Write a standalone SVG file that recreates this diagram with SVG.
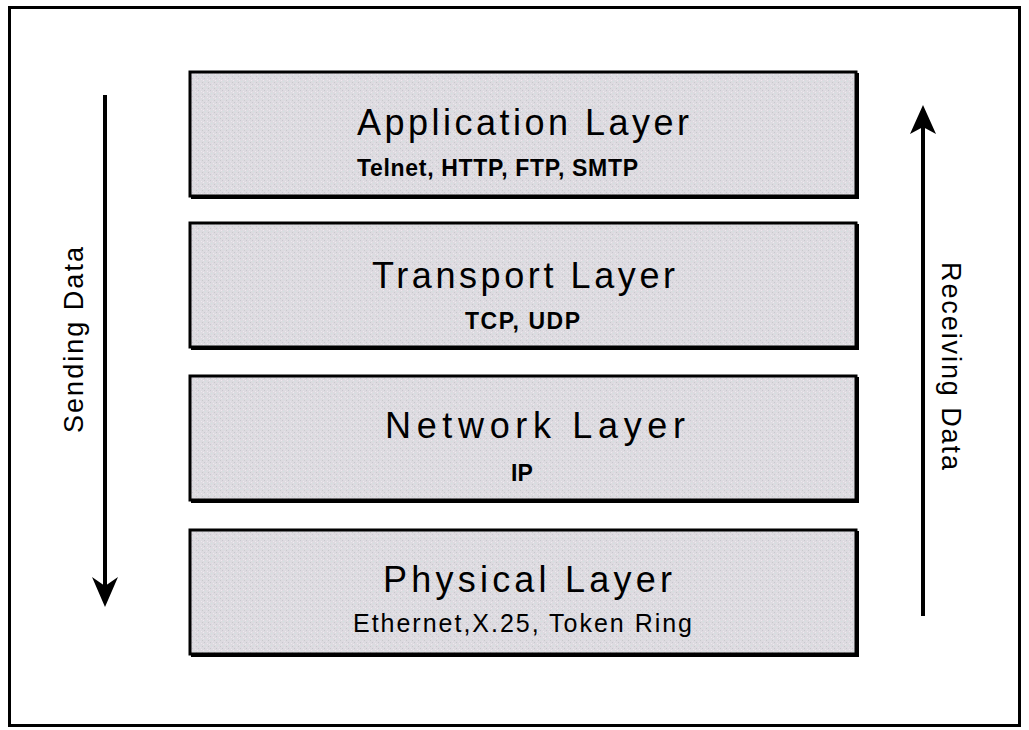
<svg xmlns="http://www.w3.org/2000/svg" width="1029" height="730" viewBox="0 0 1029 730">
<style>
.frame{fill:#fff;stroke:#000;stroke-width:3}
.box{fill:url(#speckle);stroke:#000;stroke-width:3}
.shadow{fill:none;stroke:#000;stroke-width:2}
.title{font-family:"Liberation Sans",Arial,sans-serif;font-size:36px;fill:#000}
.sub{font-family:"Liberation Sans",Arial,sans-serif;font-size:23px;font-weight:bold;fill:#000}
.subr{font-family:"Liberation Sans",Arial,sans-serif;font-size:25px;fill:#000}
.side{font-family:"Liberation Sans",Arial,sans-serif;font-size:27px;fill:#000}
.line{stroke:#000;stroke-width:4;fill:none}
.head{fill:#000}
</style>
<defs>
<pattern id="speckle" width="6" height="6" patternUnits="userSpaceOnUse">
<rect width="6" height="6" fill="#dddbe0"/>
<rect x="0" y="0" width="1" height="1" fill="#c9c6cf"/>
<rect x="3" y="1" width="1" height="1" fill="#eee6ee"/>
<rect x="1" y="3" width="1" height="1" fill="#d2e2e2"/>
<rect x="4" y="4" width="1" height="1" fill="#c8c8cc"/>
<rect x="5" y="2" width="1" height="1" fill="#efe8ef"/>
<rect x="2" y="5" width="1" height="1" fill="#e6e0ea"/>
</pattern>
</defs>
<rect class="frame" x="9.5" y="7.5" width="1010" height="718"/>
<g id="connectors">
<g id="sending">
<line class="line" x1="105" y1="95" x2="105" y2="590"/>
<polygon class="head" points="105,607 92,577 105,586 118,577"/>
</g>
<g id="receiving">
<line class="line" x1="923" y1="616" x2="923" y2="120"/>
<polygon class="head" points="923,105 910,134 923,127 936,134"/>
</g>
</g>
<g id="label-sending">
<text class="side" transform="translate(83,433) rotate(-90)" textLength="186" lengthAdjust="spacing">Sending Data</text>
</g>
<g id="label-receiving">
<text class="side" transform="translate(942,262) rotate(90)" textLength="208" lengthAdjust="spacing">Receiving Data</text>
</g>
<g id="application">
<rect class="box" x="190" y="72" width="666" height="124"/>
<polyline class="shadow" points="858,73 858,198 191,198"/>
<text class="title" x="357" y="135" textLength="332" lengthAdjust="spacing">Application Layer</text>
<text class="sub" x="357" y="176" textLength="281" lengthAdjust="spacing">Telnet, HTTP, FTP, SMTP</text>
</g>
<g id="transport">
<rect class="box" x="190" y="223" width="666" height="124"/>
<polyline class="shadow" points="858,224 858,349 191,349"/>
<text class="title" x="372" y="288" textLength="303" lengthAdjust="spacing">Transport Layer</text>
<text class="sub" x="465" y="329" textLength="115" lengthAdjust="spacing">TCP, UDP</text>
</g>
<g id="network">
<rect class="box" x="190" y="376" width="666" height="124"/>
<polyline class="shadow" points="858,377 858,502 191,502"/>
<text class="title" x="385" y="438" textLength="300" lengthAdjust="spacing">Network Layer</text>
<text class="sub" x="511" y="481">IP</text>
</g>
<g id="physical">
<rect class="box" x="190" y="530" width="666" height="124"/>
<polyline class="shadow" points="858,531 858,656 191,656"/>
<text class="title" x="383" y="592" textLength="289" lengthAdjust="spacing">Physical Layer</text>
<text class="subr" x="353" y="632" textLength="339" lengthAdjust="spacing">Ethernet,X.25, Token Ring</text>
</g>
</svg>
